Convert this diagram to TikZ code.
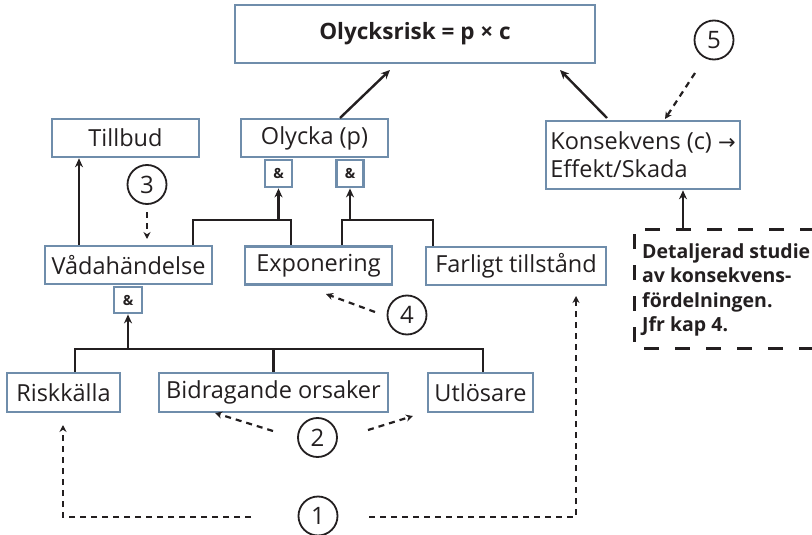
\documentclass[tikz,border=0pt]{standalone}
\usepackage{fontspec}
\setmainfont{Open Sans}
\newfontfamily\symfont{DejaVu Sans}
\usetikzlibrary{arrows.meta}

\definecolor{frame}{RGB}{111,141,171}
\definecolor{ink}{RGB}{35,31,32}

\begin{document}
\begin{tikzpicture}[x=1pt,y=-1pt,
  every node/.style={font=\fontsize{23.5}{28}\selectfont, text=ink},
  box/.style={draw=frame, line width=2.6pt, fill=white, inner sep=0pt},
  andbox/.style={box, line width=2.4pt, minimum width=27pt, minimum height=27pt,
    font=\bfseries\fontsize{14}{16}\selectfont},
  num/.style={circle, draw=ink, line width=1.8pt, minimum size=39pt, inner sep=0pt,
    font=\fontsize{24}{28}\selectfont},
  link/.style={draw=ink, line width=2.4pt},
  tip/.style={-{Stealth[length=9pt,width=8pt]}},
  dots/.style={draw=ink, line width=2.2pt, dash pattern=on 6pt off 5pt,
    -{Stealth[length=7pt,width=7pt]}},
]
\useasboundingbox (0,0) rectangle (812,535);

% --- boxes ---
\node[box, minimum width=360pt, minimum height=58pt,
      font=\bfseries\fontsize{22.5}{28}\selectfont] (risk) at (415,34) {Olycksrisk = p × c};
\node[box, minimum width=147pt, minimum height=38pt] (tillbud) at (125.5,138) {Tillbud};
\node[box, minimum width=147pt, minimum height=38pt] (olycka) at (314.5,138) {Olycka (p)};
\node[andbox, anchor=north] (and1) at (278.5,159) {\&};
\node[andbox, anchor=north] (and2) at (350,159) {\&};
\node[box, minimum width=167pt, minimum height=38pt] (vada) at (128.5,265) {Vådahändelse};
\node[andbox, anchor=north, minimum width=28pt, minimum height=26pt] (and3) at (128,286) {\&};
\node[box, minimum width=147pt, minimum height=38pt] (expo) at (318.5,265.5) {Exponering};
\node[box, minimum width=180pt, minimum height=38pt] (farligt) at (516,266) {Farligt tillstånd};
\node[box, minimum width=194pt, minimum height=68pt, align=left] (kons) at (643,155)
  {Konsekvens (c) {\symfont\fontsize{21}{24}\selectfont →}\\Effekt/Skada};
\node[box, minimum width=113pt, minimum height=39pt] (riskk) at (63.5,392.5) {Riskkälla};
\node[box, minimum width=229pt, minimum height=39pt] (bidr) at (273.5,392.5) {Bidragande orsaker};
\node[box, minimum width=105pt, minimum height=39pt] (utl) at (480.5,392.5) {Utlösare};

% --- detailed study (open dashed frame) ---
\coordinate (dTR) at (815,229);
\coordinate (dTL) at (634,229);
\coordinate (dBL) at (634,348);
\coordinate (dBR) at (815,348);
\draw[ink, line width=3pt, dash pattern=on 15pt off 16pt] (dTR) -- (dTL) -- (dBL) -- (dBR);
\node[anchor=north west, align=left, inner sep=0pt,
      font=\bfseries\fontsize{19.5}{24.5}\selectfont] (study) at (642,243)
  {Detaljerad studie\\av konsekvens-\\fördelningen.\\Jfr kap 4.};
\coordinate (dA) at (683,229);
\draw[link, tip] (dA) -- (kons.south -| dA);

% --- numbered markers ---
\node[num] (n1) at (318,516) {1};
\node[num] (n2) at (317.5,437.5) {2};
\node[num] (n3) at (147,184.5) {3};
\node[num] (n4) at (407,315) {4};
\node[num] (n5) at (714,40) {5};

% --- bottom tree ---
\coordinate (bL) at (75,349);
\coordinate (bR) at (483,349);
\coordinate (bM) at (128,349);
\draw[link] (riskk.north -| bL) -- (bL) -- (bR) -- (utl.north -| bR);
\draw[link] (bidr.north) -- (bidr.north |- bL);
\draw[link, tip] (bM) -- (and3.south);

% --- middle tree ---
\coordinate (m1L) at (193,220);
\coordinate (m1R) at (291,220);
\coordinate (m1A) at (278.5,220);
\coordinate (m2L) at (342,220);
\coordinate (m2R) at (433,220);
\coordinate (m2A) at (350,220);
\coordinate (tb) at (79,200);
\draw[link, tip] (vada.north -| tb) -- (tillbud.south -| tb);
\draw[link] (vada.north -| m1L) -- (m1L) -- (m1R) -- (expo.north -| m1R);
\draw[link, tip] (m1A) -- (and1.south);
\draw[link] (expo.north -| m2L) -- (m2L) -- (m2R) -- (farligt.north -| m2R);
\draw[link, tip] (m2A) -- (and2.south);

% --- to the top box ---
\coordinate (oA) at (340,118);
\coordinate (oB) at (390,70);
\coordinate (kA) at (607,118);
\coordinate (kB) at (560,70);
\draw[link, tip] (oA) -- (oB);
\draw[link, tip] (kA) -- (kB);

% --- dotted pointers ---
\coordinate (p5a) at (695,73);  \coordinate (p5b) at (665,119);
\draw[dots] (p5a) -- (p5b);
\coordinate (p3a) at (147,212); \coordinate (p3b) at (147,239);
\draw[dots] (p3a) -- (p3b);
\coordinate (p4a) at (375,312); \coordinate (p4b) at (326,294);
\draw[dots] (p4a) -- (p4b);
\coordinate (p2a) at (273,431); \coordinate (p2b) at (215,413);
\coordinate (p2c) at (368,430); \coordinate (p2d) at (413,416);
\draw[dots] (p2a) -- (p2b);
\draw[dots] (p2c) -- (p2d);
\coordinate (p1a) at (251,517); \coordinate (p1b) at (63,517); \coordinate (p1c) at (63,425);
\coordinate (p1d) at (369,517); \coordinate (p1e) at (576,517); \coordinate (p1f) at (576,296);
\draw[dots] (p1a) -- (p1b) -- (p1c);
\draw[dots] (p1d) -- (p1e) -- (p1f);
\end{tikzpicture}
\end{document}
